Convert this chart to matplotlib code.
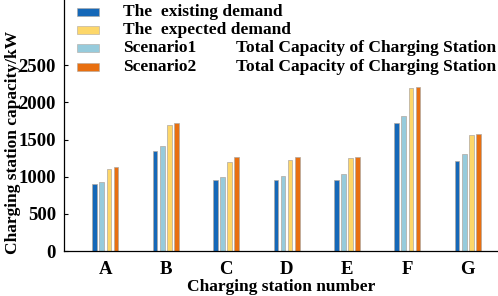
import matplotlib
matplotlib.use("Agg")
import matplotlib.pyplot as plt
import numpy as np
from matplotlib.patches import Rectangle

stations = ["A", "B", "C", "D", "E", "F", "G"]
existing = [900, 1350, 950, 960, 950, 1720, 1210]
scenario1 = [925, 1410, 1000, 1010, 1040, 1820, 1300]
expected = [1110, 1700, 1200, 1220, 1250, 2190, 1560]
scenario2 = [1130, 1720, 1270, 1270, 1270, 2210, 1580]
yticks = [0, 500, 1000, 1500, 2000, 2500]

c_exist = "#1568b8"
c_s1 = "#96cbdc"
c_exp = "#fdd76a"
c_s2 = "#e86f10"

plt.rcParams["font.family"] = ["Liberation Serif", "DejaVu Serif"]
plt.rcParams["font.weight"] = "bold"

fig = plt.figure(figsize=(4.98, 2.96), dpi=100)
ax = fig.add_axes([0.129, 0.152, 0.871, 0.848])

x = np.arange(len(stations))
pitch = 0.118
w = 0.078
series = [(existing, c_exist), (scenario1, c_s1), (expected, c_exp), (scenario2, c_s2)]
for i, (vals, col) in enumerate(series):
    ax.bar(x + (i - 1.5) * pitch, vals, width=w, color=col,
           edgecolor="#b0a8a0", linewidth=0.5)

ax.set_xlim(-0.68, 6.5)
ax.set_ylim(0, 3380)
ax.set_yticks(yticks)
ax.set_yticklabels([str(t) for t in yticks], fontsize=13.5, fontweight="bold")
ax.set_xticks(x)
ax.set_xticklabels(stations, fontsize=13.5, fontweight="bold")
ax.tick_params(axis="x", length=0, pad=7)
ax.tick_params(axis="y", direction="in", length=3, width=0.8, pad=6)
for s in ["top", "right"]:
    ax.spines[s].set_visible(False)
ax.spines["left"].set_linewidth(0.9)
ax.spines["bottom"].set_linewidth(0.9)

ax.set_xlabel("Charging station number", fontsize=12.5, fontweight="bold", labelpad=1)
ax.set_ylabel("Charging station capacity/kW", fontsize=12.5, fontweight="bold")
ax.yaxis.set_label_coords(-0.1, 0.434)

# legend drawn manually
W, H = 498, 296
rows_y = [12, 30, 48, 67]
labels1 = ["The  existing demand", "The  expected demand", "Scenario1", "Scenario2"]
cols = [c_exist, c_exp, c_s1, c_s2]
for yy, lab, col in zip(rows_y, labels1, cols):
    fig.patches.append(Rectangle((77 / W, 1 - (yy + 3.5) / H), 22 / W, 7 / H,
                                 transform=fig.transFigure, facecolor=col,
                                 edgecolor="#b0a8a0", linewidth=0.4))
    fig.text(123 / W, 1 - yy / H, lab, fontsize=12.5, fontweight="bold",
             va="center", ha="left")
for yy in rows_y[2:]:
    fig.text(236 / W, 1 - yy / H, "Total Capacity of Charging Station",
             fontsize=12.5, fontweight="bold", va="center", ha="left")

fig.savefig("out.png", dpi=100)
